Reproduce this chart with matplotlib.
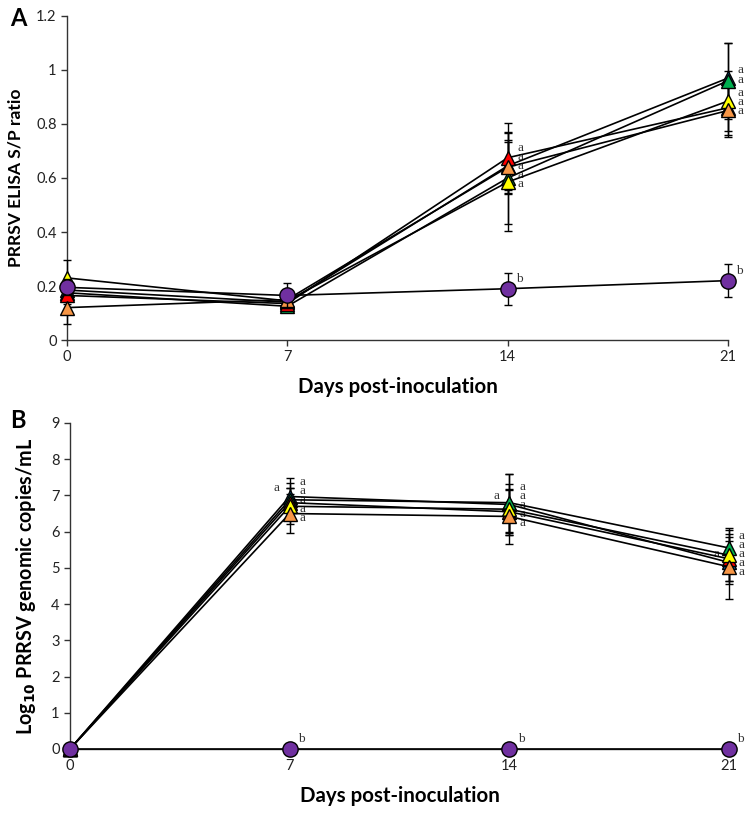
"""PRRSV serology (A) and viremia (B) over days post-inoculation."""

import matplotlib
matplotlib.use("Agg")
import matplotlib.pyplot as plt

days = [0, 7, 14, 21]
groups = ["blue", "green", "red", "yellow", "orange", "purple"]
colors = {
    "blue": "#0070C0",
    "green": "#00B050",
    "red": "#FF0000",
    "yellow": "#FFFF00",
    "orange": "#F79646",
    "purple": "#7030A0",
}

# Panel A: ELISA S/P ratio (mean, sd)
sp_mean = {
    "blue": [0.185, 0.14, 0.645, 0.97],
    "green": [0.175, 0.125, 0.60, 0.96],
    "red": [0.165, 0.135, 0.675, 0.86],
    "yellow": [0.23, 0.145, 0.585, 0.885],
    "orange": [0.12, 0.15, 0.64, 0.85],
    "purple": [0.195, 0.165, 0.19, 0.22],
}
sp_sd = {
    "blue": [0.03, 0.03, 0.09, 0.13],
    "green": [0.03, 0.02, 0.17, 0.14],
    "red": [0.03, 0.03, 0.13, 0.10],
    "yellow": [0.065, 0.03, 0.18, 0.11],
    "orange": [0.06, 0.03, 0.10, 0.10],
    "purple": [0.03, 0.045, 0.06, 0.06],
}
sp_letters = {
    "blue": ["", "", "a", "a"],
    "green": ["", "", "a", "a"],
    "red": ["", "", "a", "a"],
    "yellow": ["", "", "a", "a"],
    "orange": ["", "", "a", "a"],
    "purple": ["", "", "b", "b"],
}

# Panel B: log10 genomic copies/mL (mean, sd)
vl_mean = {
    "blue": [0, 6.97, 6.75, 5.15],
    "green": [0, 6.88, 6.80, 5.55],
    "red": [0, 6.80, 6.55, 5.25],
    "yellow": [0, 6.70, 6.62, 5.35],
    "orange": [0, 6.50, 6.42, 5.03],
    "purple": [0, 0, 0, 0],
}
vl_sd = {
    "blue": [0, 0.5, 0.85, 0.6],
    "green": [0, 0.45, 0.8, 0.55],
    "red": [0, 0.4, 0.6, 0.6],
    "yellow": [0, 0.5, 0.7, 0.7],
    "orange": [0, 0.55, 0.75, 0.9],
    "purple": [0, 0, 0, 0],
}
vl_letters = {
    "blue": ["", "a", "a", "a"],
    "green": ["", "a", "a", "a"],
    "red": ["", "a", "a", "a"],
    "yellow": ["", "a", "a", "a"],
    "orange": ["", "a", "a", "a"],
    "purple": ["", "b", "b", "b"],
}

plt.rcParams["font.family"] = ["Lato", "DejaVu Sans"]

fig = plt.figure(figsize=(7.54, 8.15), dpi=100)
ax_a = fig.add_axes([0.0889, 0.5828, 0.8766, 0.3976])
ax_b = fig.add_axes([0.0928, 0.081, 0.874, 0.400])

GAP = 6.5  # minimum vertical spacing between stacked letters, points


def spread(ys, gap):
    """Push sorted label positions apart so they don't overlap."""
    order = sorted(range(len(ys)), key=lambda i: -ys[i])
    out = list(ys)
    for k in range(1, len(order)):
        prev, cur = order[k - 1], order[k]
        if out[prev] - out[cur] < gap:
            out[cur] = out[prev] - gap
    # recentre the block on the original mean
    shift = (sum(ys) - sum(out)) / len(ys)
    return [o + shift for o in out]


def draw_panel(ax, means, sds, letters, ylim, yticks, ylabel, ylabel_size,
               left_letter=False):
    for g in groups:
        marker = "o" if g == "purple" else "^"
        ms = 11 if g == "purple" else 10
        z = 5 if g == "purple" else 3
        ax.errorbar(days, means[g], yerr=sds[g], color="black", lw=1.2,
                    elinewidth=1, capsize=3, capthick=1, marker=marker,
                    ms=ms, mfc=colors[g], mec="black", mew=1,
                    clip_on=False, zorder=z)

    ax.set_xlim(0, 21)
    ax.set_ylim(*ylim)
    pts_per_unit = ax.get_position().height * fig.get_figheight() * 72 / (ylim[1] - ylim[0])

    for i, d in enumerate(days):
        # triangles: stacked letters to the right
        keys = [g for g in groups[:-1] if letters[g][i]]
        if keys:
            ys = [means[g][i] * pts_per_unit for g in keys]
            ys_new = spread(ys, GAP)
            for g, y0, y1 in zip(keys, ys, ys_new):
                ax.annotate(letters[g][i], (d, means[g][i]),
                            xytext=(7, 3 + y1 - y0), textcoords="offset points",
                            fontsize=9.5, family="Liberation Serif",
                            color="#333333", va="center", ha="left")
        # control group circle: letter raised up-right
        if letters["purple"][i]:
            ax.annotate(letters["purple"][i], (d, means["purple"][i]),
                        xytext=(6, 7), textcoords="offset points",
                        fontsize=9.5, family="Liberation Serif",
                        color="#333333", va="center", ha="left")

    if left_letter:
        top = max(groups[:-1], key=lambda k: means[k][1])
        for i in (1, 2, 3):
            ax.annotate("a", (days[i], means[top][i]), xytext=(-7, 6),
                        textcoords="offset points", fontsize=9.5,
                        family="Liberation Serif", color="#333333",
                        va="center", ha="right")

    ax.set_xticks(days)
    ax.set_yticks(yticks)
    ax.set_yticklabels([f"{t:g}" for t in yticks])
    ax.tick_params(labelsize=10.5, length=4, width=1, color="#333333",
                   labelcolor="#222222")
    ax.spines["top"].set_visible(False)
    ax.spines["right"].set_visible(False)
    for s in ("left", "bottom"):
        ax.spines[s].set_linewidth(1)
        ax.spines[s].set_color("#333333")
    ax.set_xlabel("Days post-inoculation", fontsize=14.8, fontweight="bold",
                  labelpad=9)
    ax.set_ylabel(ylabel, fontsize=ylabel_size, fontweight="bold", labelpad=9)


draw_panel(ax_a, sp_mean, sp_sd, sp_letters, (0, 1.2),
           [0, 0.2, 0.4, 0.6, 0.8, 1.0, 1.2], "PRRSV ELISA S/P ratio", 12.6)
draw_panel(ax_b, vl_mean, vl_sd, vl_letters, (0, 9), list(range(10)),
           r"Log$_{\mathbf{10}}$ PRRSV genomic copies/mL", 14.2, left_letter=True)

fig.text(0.013, 0.977, "A", fontsize=17, fontweight="bold", va="center")
fig.text(0.013, 0.484, "B", fontsize=17, fontweight="bold", va="center")

fig.savefig("out.png", dpi=100)
